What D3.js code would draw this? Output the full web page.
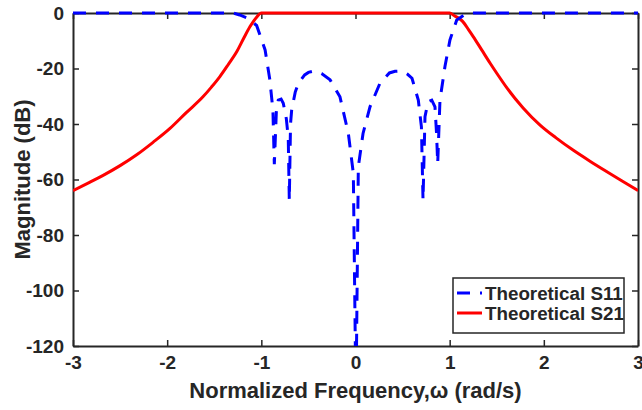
<!DOCTYPE html>
<html>
<head>
<meta charset="utf-8">
<script src="https://cdn.jsdelivr.net/npm/d3@7"></script>
<style>
    body { margin: 0; background: #fff; }
    text { font-family: "Liberation Sans", Arial, sans-serif; font-weight: bold; fill: #262626; }
</style>
</head>
<body>
<svg id="chart" width="642" height="410"></svg>
<script>
// S21 (transmission)
const s21Freq = [-3, -2.84, -2.68, -2.5, -2.32, -2.15, -1.97, -1.8, -1.62, -1.53, -1.44, -1.35, -1.26, -1.19, -1.12, -1.08, -1.05, -1.0,
    1.0, 1.05, 1.1, 1.14, 1.2, 1.25, 1.34, 1.43, 1.52, 1.61, 1.78, 1.96, 2.13, 2.31, 2.49, 2.67, 2.84, 3];
const s21Mag = [-64.0, -61.3, -58.5, -55.0, -51.0, -46.6, -41.6, -36.0, -30.2, -26.7, -22.9, -18.5, -13.9, -9.3, -4.9, -2.8, -1.5, 0,
    0, -1.0, -2.0, -3.1, -6.0, -8.5, -13.3, -18.1, -22.7, -27.1, -34.2, -40.4, -45.0, -49.4, -53.4, -57.2, -60.7, -64.0];

// S11 (reflection)
const s11Freq = [-3, -1.3, -1.23, -1.15, -1.05, -0.96, -0.91, -0.877, -0.862, -0.84, -0.82, -0.79, -0.767, -0.735, -0.714, -0.703,
    -0.69, -0.678, -0.64, -0.607, -0.54, -0.5, -0.45, -0.4, -0.36, -0.27, -0.165, -0.076, -0.023, 0.005, 0.03, 0.08, 0.154, 0.26, 0.36,
    0.42, 0.47, 0.52, 0.55, 0.6, 0.667, 0.70, 0.717, 0.738, 0.77, 0.81, 0.844, 0.86, 0.873, 0.897, 0.95, 1.003, 1.075, 1.15, 1.22, 3];
const s11Mag = [0, 0, -0.7, -1.8, -4.5, -13.3, -24, -35, -54.5, -35, -31.4, -31, -32.5, -38, -45, -67.5,
    -40, -35, -28.5, -25.3, -22.3, -21.4, -21, -21.2, -21.8, -24.1, -30.2, -43.4, -57.8, -140, -55.4, -43.4, -33.8, -25.3, -21.6,
    -21.0, -20.9, -21.4, -22, -23.5, -31.4, -41, -67.4, -37.4, -32, -31.4, -33.8, -43, -54.2, -31.4, -19.3, -9.7, -2.5, -0.8, 0, 0];

const xTicks = [-3, -2, -1, 0, 1, 2, 3];
const yTicks = [0, -20, -40, -60, -80, -100, -120];
const seriesNames = ["Theoretical S11", "Theoretical S21"];

const svg = d3.select("#chart");
const margin = { top: 13, right: 4, bottom: 64, left: 73 };
const width = 642 - margin.left - margin.right;
const height = 410 - margin.top - margin.bottom;
const g = svg.append("g").attr("transform", `translate(${margin.left},${margin.top})`);

const x = d3.scaleLinear().domain([-3, 3]).range([0, width]);
const y = d3.scaleLinear().domain([-120, 0]).range([height, 0]);

g.append("clipPath").attr("id", "clip")
    .append("rect").attr("x", 0).attr("y", -3).attr("width", width).attr("height", height + 3);

const s21 = s21Freq.map((f, i) => [f, s21Mag[i]]);
const s11 = s11Freq.map((f, i) => [f, s11Mag[i]]);

// axes (box with inward ticks on all sides)
const axisColor = "#262626";
const fmt = d => String(d);
const styleAxis = sel => {
    sel.select(".domain").attr("stroke", axisColor).attr("stroke-width", 2);
    sel.selectAll(".tick line").attr("stroke", axisColor).attr("stroke-width", 1.5);
    sel.selectAll(".tick text").attr("font-size", 19).attr("fill", axisColor)
        .style("font-family", '"Liberation Sans", Arial, sans-serif').style("font-weight", "bold");
};

g.append("g").attr("transform", `translate(0,${height})`)
    .call(d3.axisBottom(x).tickValues(xTicks).tickFormat(fmt).tickSize(-6).tickPadding(10).tickSizeOuter(0))
    .call(styleAxis);
g.append("g")
    .call(d3.axisLeft(y).tickValues(yTicks).tickFormat(fmt).tickSize(-6).tickPadding(9).tickSizeOuter(0))
    .call(styleAxis);
g.append("g")
    .call(d3.axisTop(x).tickValues(xTicks).tickSize(-6).tickFormat("").tickSizeOuter(0))
    .call(styleAxis);
g.append("g").attr("transform", `translate(${width},0)`)
    .call(d3.axisRight(y).tickValues(yTicks).tickSize(-6).tickFormat("").tickSizeOuter(0))
    .call(styleAxis);

// curves
const plot = g.append("g").attr("clip-path", "url(#clip)");
plot.append("path").datum(s21)
    .attr("fill", "none").attr("stroke", "#ff0000").attr("stroke-width", 3)
    .attr("d", d3.line().x(d => x(d[0])).y(d => y(d[1])).curve(d3.curveMonotoneX));
plot.append("path").datum(s11)
    .attr("fill", "none").attr("stroke", "#0000ff").attr("stroke-width", 3)
    .attr("stroke-dasharray", "13,10")
    .attr("d", d3.line().x(d => x(d[0])).y(d => y(d[1])));

// axis titles
svg.append("text")
    .attr("x", margin.left + width / 2).attr("y", 398)
    .attr("text-anchor", "middle").attr("font-size", 22)
    .text("Normalized Frequency,ω (rad/s)");
svg.append("text")
    .attr("transform", `translate(30,${margin.top + height / 2}) rotate(-90)`)
    .attr("text-anchor", "middle").attr("font-size", 22)
    .text("Magnitude (dB)");

// legend
const legend = svg.append("g").attr("transform", "translate(453,278)");
legend.append("rect").attr("width", 171).attr("height", 55)
    .attr("fill", "#fff").attr("stroke", axisColor).attr("stroke-width", 1.5);
const legendStyles = [{ color: "#0000ff", dash: "13,10" }, { color: "#ff0000", dash: null }];
seriesNames.forEach((name, i) => {
    const row = legend.append("g").attr("transform", `translate(0,${15 + i * 20})`);
    row.append("line").attr("x1", 4).attr("x2", 29)
        .attr("stroke", legendStyles[i].color).attr("stroke-width", 3)
        .attr("stroke-dasharray", legendStyles[i].dash);
    row.append("text").attr("x", 32).attr("dy", "0.35em").attr("font-size", 18.8).text(name);
});
</script>
</body>
</html>
